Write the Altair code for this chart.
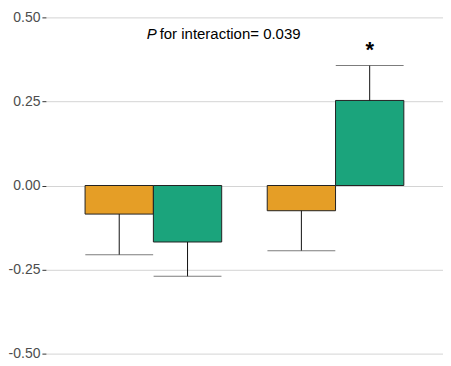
import altair as alt
import pandas as pd

groups = ["Group 1", "Group 1", "Group 2", "Group 2"]
series = ["A", "B", "A", "B"]
means = [-0.085, -0.168, -0.075, 0.253]
err_ends = [-0.206, -0.270, -0.194, 0.357]
y_ticks = [-0.5, -0.25, 0.0, 0.25, 0.5]
series_colors = ["#E59E26", "#1BA47C"]
annotation = "for interaction= 0.039"
star_flags = ["", "", "", "*"]

df = pd.DataFrame({"group": groups, "series": series, "mean": means,
                   "err": err_ends, "star": star_flags})

x_enc = alt.X("group:N", axis=None,
              scale=alt.Scale(paddingInner=0.25, paddingOuter=0.215))
xo_enc = alt.XOffset("series:N", scale=alt.Scale(paddingInner=0, paddingOuter=0))
y_scale = alt.Scale(domain=[-0.5, 0.5], nice=False, zero=False)

bars = alt.Chart(df).mark_bar(stroke="#222222", strokeWidth=1).encode(
    x=x_enc, xOffset=xo_enc,
    y=alt.Y("mean:Q", scale=y_scale, title=None,
            axis=alt.Axis(values=y_ticks,
                          labelExpr="replace(format(datum.value, '.2f'), '\u2212', '-')")),
    y2=alt.Y2(datum=0),
    color=alt.Color("series:N", legend=None,
                    scale=alt.Scale(domain=["A", "B"], range=series_colors)),
)

stems = alt.Chart(df).mark_rule(color="#111111", strokeWidth=1).encode(
    x=x_enc, xOffset=xo_enc, y=alt.Y("mean:Q", scale=y_scale), y2="err:Q"
)

caps = alt.Chart(df).mark_tick(color="#444444", thickness=1, size=68, orient="horizontal").encode(
    x=x_enc, xOffset=xo_enc, y=alt.Y("err:Q", scale=y_scale)
)

stars = alt.Chart(df).mark_text(fontSize=22, fontWeight="bold", font="Liberation Sans",
                                baseline="alphabetic", dy=-8, color="#000000").encode(
    x=x_enc, xOffset=xo_enc, y=alt.Y("err:Q", scale=y_scale), text="star:N"
)

p_text = alt.Chart(pd.DataFrame({"t": ["P"]})).mark_text(
    fontSize=15, fontStyle="italic", font="Liberation Sans", align="left",
    baseline="alphabetic", color="#000000").encode(
    x=alt.value(101), y=alt.datum(0.435), text="t:N")

rest_text = alt.Chart(pd.DataFrame({"t": [annotation]})).mark_text(
    fontSize=15, font="Liberation Sans", align="left",
    baseline="alphabetic", color="#000000").encode(
    x=alt.value(114), y=alt.datum(0.435), text="t:N")

chart = alt.layer(bars, stems, caps, stars, p_text, rest_text).properties(
    width=398, height=337,
    autosize=alt.AutoSizeParams(type="none"),
    padding={"left": 38, "top": 9, "right": 0, "bottom": 12},
    background="white",
).configure_view(stroke=None).configure_axisY(
    domain=False, tickSize=4, tickColor="#333333", tickWidth=1,
    labelColor="#4d4d4d", labelFontSize=14, labelFont="Liberation Sans",
    labelPadding=2, gridColor="#d4d4d4", gridWidth=1,
)

chart.save("out.html", embed_options={"renderer": "svg", "actions": False})
